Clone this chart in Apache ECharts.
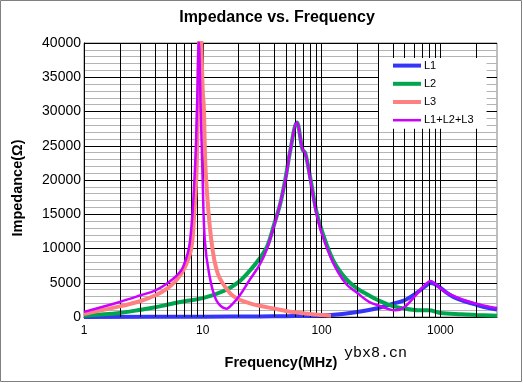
<!DOCTYPE html>
<html><head><meta charset="utf-8">
<script src="https://cdn.jsdelivr.net/npm/echarts@6/dist/echarts.min.js"></script>
<style>html,body{margin:0;padding:0;background:#fff}#c{width:523px;height:383px}</style>
</head><body><div id="c"></div>
<script>
// ---- data (frequency in MHz, impedance in ohm) ----
const l1Freq = [1, 10, 30, 50, 100, 150, 200, 300, 400, 500, 620, 700, 760, 830, 900, 1000, 1100, 1300, 1600, 2000, 2500, 3000];
const l1Imp  = [10, 40, 80, 120, 230, 450, 730, 1320, 1950, 2440, 3420, 4100, 4600, 4950, 4800, 4300, 3700, 2900, 2300, 1800, 1350, 1080];

const l2Freq = [1, 2, 3, 4, 5, 7, 10, 15, 20, 25, 30, 35, 40, 45, 50, 54, 62, 69, 73, 80, 90, 100, 125, 160, 200, 250, 300, 380, 500, 650, 800, 1000, 1500, 2000, 3000];
const l2Imp  = [200, 590, 1070, 1420, 1800, 2300, 2750, 3800, 5100, 6800, 8500, 10400, 13600, 16600, 20500, 23900, 28400, 24500, 23900, 20500, 15600, 12700, 8300, 5600, 4150, 3170, 2440, 1700, 1220, 980, 980, 600, 400, 300, 170];

const l3Freq = [1, 2, 3, 4, 5, 6, 7, 8, 8.5, 8.85, 9.1, 9.5, 10, 10.2, 10.6, 11.8, 13.4, 16.9, 20, 25, 30, 40, 50, 60, 80, 100, 120];
const l3Imp  = [450, 1550, 2340, 3170, 4150, 5370, 7080, 10000, 15500, 21000, 30700, 44000, 33000, 30700, 21000, 11200, 6300, 3500, 2600, 2000, 1650, 1220, 880, 680, 430, 290, 200];

const sumFreq = [1, 2, 3, 4, 5, 6, 6.83, 7.77, 8.56, 8.95, 9.26, 9.6, 9.94, 10.4, 11.3, 13.0, 15.8, 18, 20.5, 24.7, 30, 34.4, 40, 44.5, 50, 54, 62, 69, 73, 80, 90, 100, 124, 160, 200, 251, 300, 380, 420, 500, 620, 760, 830, 900, 1100, 1600, 2300, 3000];
const sumImp  = [750, 2200, 3170, 3900, 4900, 6000, 7300, 10800, 21000, 30700, 40300, 30700, 21000, 11200, 6340, 2440, 1220, 2000, 3170, 5370, 7560, 9760, 13400, 16350, 20250, 23900, 28400, 24500, 23900, 20300, 15300, 12300, 8050, 4880, 3500, 2200, 1700, 1070, 980, 1460, 3170, 4880, 5270, 4880, 3660, 2440, 1700, 1300];

const seriesNames = ['L1', 'L2', 'L3', 'L1+L2+L3'];
const xTickLabels = [1, 10, 100, 1000];
const xGridLines = [2,3,4,5,6,7,8,9,10,20,30,40,50,60,70,80,90,100,200,300,400,500,600,700,800,900,1000,2000];
const xMin = 1, xMax = 3000;
const yMin = 0, yMax = 40000, yStep = 5000;

const pairs = (xs, ys) => xs.map((x, i) => [x, ys[i]]);
const colors = ['#3535F8', '#00A550', '#FF8080', '#CC00FF'];
const widths = [4, 4, 4, 2.5];
const datas = [pairs(l1Freq, l1Imp), pairs(l2Freq, l2Imp), pairs(l3Freq, l3Imp), pairs(sumFreq, sumImp)];

const chart = echarts.init(document.getElementById('c'), null, {renderer: 'canvas'});
const series = [{
  name: 'grid', type: 'line', data: [], silent: true, z: 1,
  markLine: {
    silent: true, symbol: ['none', 'none'], animation: false,
    label: {show: false},
    lineStyle: {color: '#000', width: 1, type: 'solid'},
    emphasis: {disabled: true},
    data: xGridLines.map(v => ({xAxis: v}))
  }
}];
seriesNames.forEach((n, i) => series.push({
  name: n, type: 'line', data: datas[i], smooth: 0.35, symbol: 'none', clip: true, z: 3 + i,
  lineStyle: {color: colors[i], width: widths[i]}, itemStyle: {color: colors[i]},
  emphasis: {disabled: true}
}));

chart.setOption({
  animation: false,
  backgroundColor: '#fff',
  grid: {left: 84, top: 43, right: 26, bottom: 66, show: true, borderColor: '#808080', borderWidth: 1, backgroundColor: '#fff'},
  legend: {
    data: seriesNames.map((n, i) => ({name: n, lineStyle: {width: widths[i], color: colors[i]}})),
    orient: 'vertical', left: 379, top: 58, z: 50,
    backgroundColor: '#fff', padding: [2, 13, 3, 12], itemGap: 7,
    itemWidth: 28, itemHeight: 14, itemStyle: {opacity: 0},
    textStyle: {fontFamily: 'Arial, Liberation Sans', fontSize: 11, color: '#000', padding: [0, 0, 0, -2]}
  },
  xAxis: {
    type: 'log', logBase: 10, min: xMin, max: xMax,
    axisLine: {show: true, lineStyle: {color: '#000', width: 1}},
    axisTick: {show: false}, splitLine: {show: false},
    axisLabel: {
      margin: 8, color: '#000', fontFamily: 'Arial, Liberation Sans', fontSize: 12,
      showMaxLabel: false,
      formatter: v => { const r = Math.round(v); return xTickLabels.includes(r) ? String(r) : ''; }
    }
  },
  yAxis: {
    type: 'value', min: yMin, max: yMax, interval: yStep,
    axisLine: {show: true, lineStyle: {color: '#000', width: 1}},
    axisTick: {show: false},
    axisLabel: {margin: 3, color: '#000', fontFamily: 'Arial, Liberation Sans', fontSize: 14, formatter: v => String(v)},
    splitLine: {show: true, lineStyle: {color: '#000', width: 1}},
    minorTick: {show: false, splitNumber: 5},
    minorSplitLine: {show: true, lineStyle: {color: '#B4B4B4', width: 1}}
  },
  graphic: [
    {type: 'rect', silent: true, z: 100, shape: {x: 0.5, y: 0.5, width: 521, height: 381},
     style: {fill: null, stroke: '#808080', lineWidth: 1}},
    {type: 'text', silent: true, z: 100, x: 277, y: 18,
     style: {text: 'Impedance vs. Frequency', fill: '#000', font: 'bold 16px Arial, Liberation Sans', align: 'center', verticalAlign: 'middle'}},
    {type: 'text', silent: true, z: 100, x: 18, y: 188, rotation: Math.PI / 2,
     style: {text: 'Impedance(Ω)', fill: '#000', font: 'bold 14.5px Arial, Liberation Sans', align: 'center', verticalAlign: 'middle'}},
    {type: 'text', silent: true, z: 100, x: 281, y: 363,
     style: {text: 'Frequency(MHz)', fill: '#000', font: 'bold 14.5px Arial, Liberation Sans', align: 'center', verticalAlign: 'middle'}},
    {type: 'text', silent: true, z: 100, x: 344, y: 353,
     style: {text: 'ybx8.cn', fill: '#000', font: '15px Liberation Mono, DejaVu Sans Mono', align: 'left', verticalAlign: 'middle'}}
  ],
  series: series
});
</script></body></html>
